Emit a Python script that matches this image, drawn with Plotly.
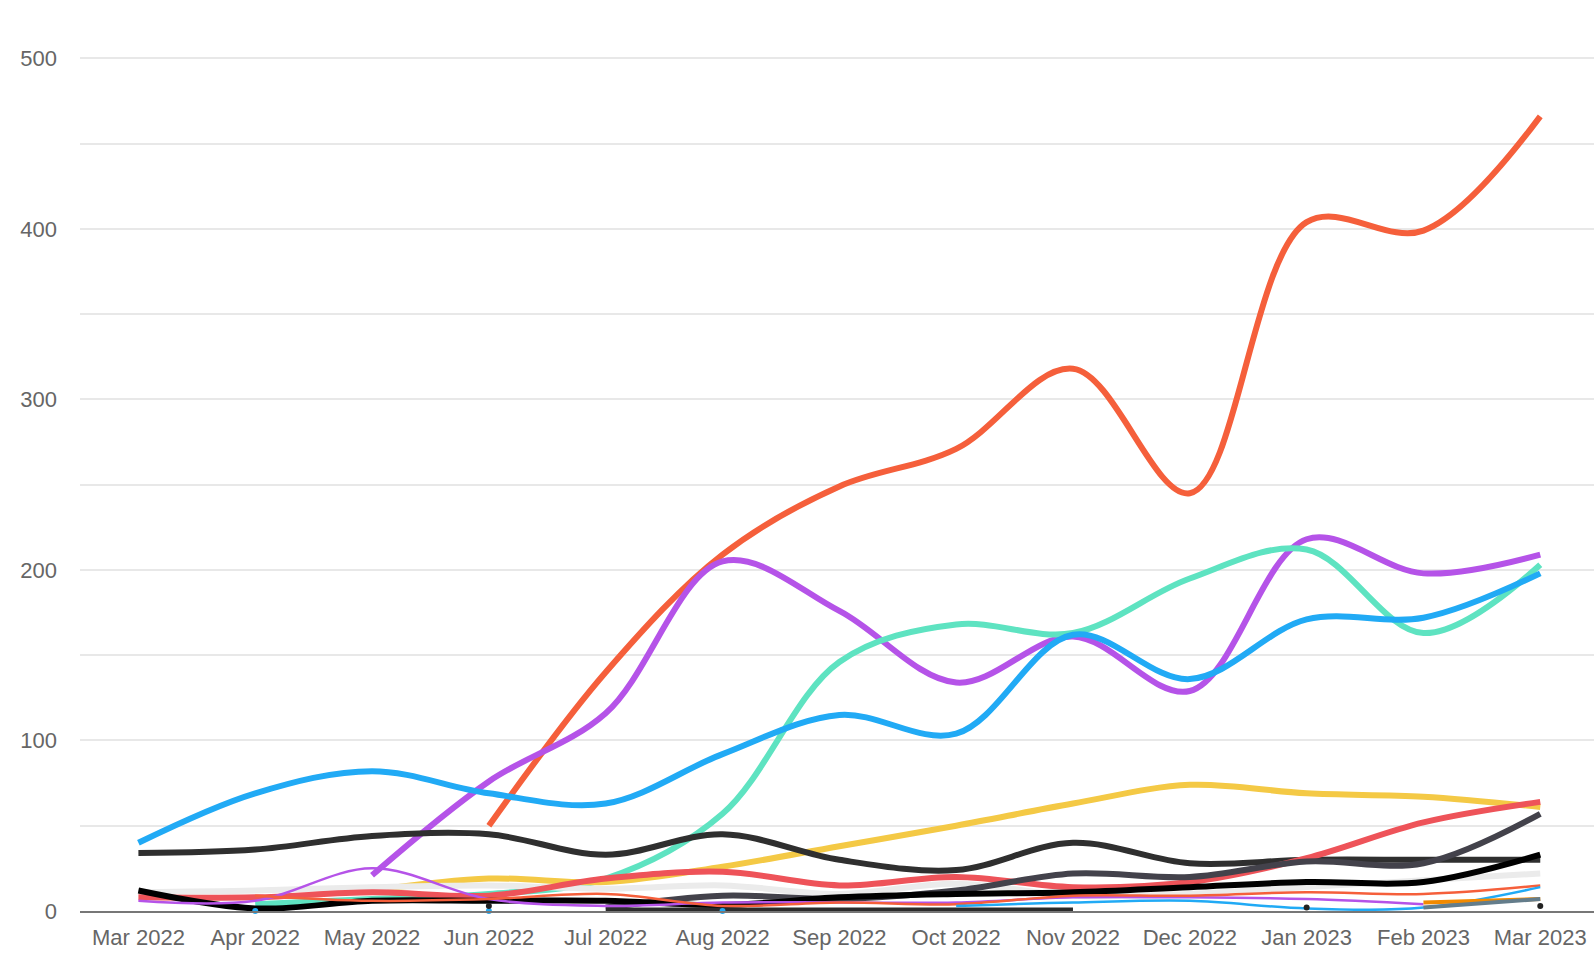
import plotly.graph_objects as go

months = ["Mar 2022", "Apr 2022", "May 2022", "Jun 2022", "Jul 2022", "Aug 2022", "Sep 2022",
          "Oct 2022", "Nov 2022", "Dec 2022", "Jan 2023", "Feb 2023", "Mar 2023"]
N = None

tomato_thick = [N, N, N, 50, 140, 209, 249, 271, 318, 245, 404, 399, 466]
purple_thick = [N, N, 21, 76, 116, 205, 176, 134, 161, 129, 218, 198, 209]
teal_thick = [N, 4, 7, 10, 19, 57, 146, 168, 163, 195, 212, 163, 203]
blue_thick = [40, 69, 82, 69, 63, 92, 115, 104, 162, 136, 171, 172, 198]
yellow_thick = [N, N, 12, 19, 17, 26, 38, 50, 63, 74, 69, 67, 61]
dark_thick = [34, 36, 44, 45, 33, 45, 30, 24, 40, 28, 30, 30, 30]
red_thick = [8, 8, 11, 9, 19, 23, 15, 20, 14, 17, 31, 52, 64]
darkgray_thick = [N, N, N, N, 2, 9, 7, 12, 22, 20, 29, 28, 57]
lightgray_thick = [11, 12, 14, 15, 13, 15, 10, 16, 9, 10, 14, 18, 22]
black_thick = [12, 1.5, 6, 6, 6, 3.5, 8, 10, 11, 14, 17, 17, 33]
black_flat = [N, N, N, N, 1, 1, 1, 1, 1, N, N, N, N]
purple_thin = [6, 6, 25, 7, 3, 5, 5, 5, 8, 8, 7, 4, N]
orange_thin = [N, 9, 6, 7, 10, 3, 5, 4, 9, 9, 11, 10, 15]
blue_thin = [N, 0, N, 0, N, 0, N, 3, 5, 6, 1.5, 2, 14]
black_points = [N, N, N, 3, N, N, N, N, N, N, 2, N, 3]
orange_short = [N, N, N, N, N, N, N, N, N, N, N, 5, 7]
slate_short = [N, N, N, N, N, N, N, N, N, N, N, 2, 7]

series = [
    (tomato_thick, "#f55f3b", 6),
    (purple_thick, "#b553e8", 6),
    (teal_thick, "#5ee3c1", 6),
    (blue_thick, "#21aaf5", 6),
    (yellow_thick, "#f4c945", 6),
    (dark_thick, "#2f2f2f", 6),
    (lightgray_thick, "#ebebeb", 6),
    (red_thick, "#ee5359", 6),
    (darkgray_thick, "#43424b", 6),
    (black_thick, "#000000", 6),
    (black_flat, "#2b2b2b", 3.5),
    (purple_thin, "#b553e8", 2.5),
    (orange_thin, "#f55f3b", 2.5),
    (blue_thin, "#21aaf5", 2.5),
    (black_points, "#222222", 2.5),
    (orange_short, "#f28a00", 4),
    (slate_short, "#647d8b", 4),
]

fig = go.Figure()
for vals, color, w in series:
    fig.add_trace(go.Scatter(x=months, y=vals, mode="lines", line=dict(color=color, width=w, shape="spline", smoothing=1),
                             connectgaps=False, hoverinfo="skip"))
    iso_x, iso_y = [], []
    for i, v in enumerate(vals):
        if v is None:
            continue
        prev_none = i == 0 or vals[i - 1] is None
        next_none = i == len(vals) - 1 or vals[i + 1] is None
        if prev_none and next_none:
            iso_x.append(months[i])
            iso_y.append(v)
    if iso_x:
        fig.add_trace(go.Scatter(x=iso_x, y=iso_y, mode="markers", marker=dict(color=color, size=6),
                                 hoverinfo="skip", cliponaxis=False))

yt = list(range(0, 501, 50))
ytext = [str(v) if v % 100 == 0 else "" for v in yt]

fig.update_layout(
    width=1594, height=978,
    margin=dict(l=80, r=0, t=55, b=67),
    plot_bgcolor="white", paper_bgcolor="white",
    showlegend=False,
    font=dict(family="Liberation Sans, Arial, sans-serif", size=22, color="#666666"),
    xaxis=dict(type="category", range=[-0.5, 12.46], showgrid=False, showline=True, linecolor="#777777",
               linewidth=1.5, ticks="", ticklabelstandoff=6, zeroline=False),
    yaxis=dict(range=[0, 502], tickvals=yt, ticktext=ytext, showgrid=True, gridcolor="#e8e8e8", gridwidth=1.5,
               zeroline=False, ticks="", ticklabelstandoff=22, showline=False),
)

fig.write_html("out.html")
